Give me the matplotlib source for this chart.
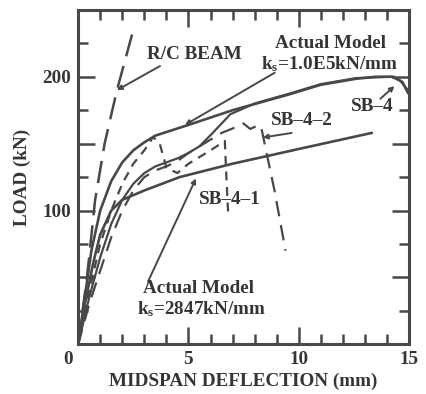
import numpy as np
import matplotlib.pyplot as plt
from matplotlib.ticker import MultipleLocator

plt.rcParams['font.family'] = 'Liberation Serif'
plt.rcParams['font.weight'] = 'bold'
plt.rcParams['axes.labelweight'] = 'bold'
plt.rcParams['mathtext.default'] = 'regular'

# R/C beam (dashed)
rc_x = [0, 0.4, 0.77, 1.2, 1.76, 2.5]
rc_y = [0, 50, 108, 150, 190, 235]

# Actual model, ks = 1.0E5 kN/mm
m1_x = [0, 0.3, 0.6, 1.0, 1.5, 2.0, 2.5, 3.0, 3.5, 5.0, 7.0, 9.6, 11.0, 12.6, 13.5, 14.3, 14.7, 14.95]
m1_y = [0, 35, 70, 100, 122, 136, 145, 151, 156, 164, 175, 187, 194, 198.5, 200, 200, 196, 188]

# SB-4 test
sb4_x = [0, 0.5, 1.0, 1.5, 2.0, 2.5, 3.0, 3.5, 4.0, 4.5, 5.0, 5.5, 6.1, 6.9, 8.0, 9.6, 11.0, 12.6, 14.2, 14.6, 14.95]
sb4_y = [0, 35, 65, 90, 108, 120, 128, 133, 136, 139, 143, 148, 158, 172, 180, 187.5, 194.5, 199, 200, 197, 190]

# SB-4-1 test (dashed)
sb41_x = [0, 0.5, 1.0, 1.5, 2.0, 2.5, 3.0, 3.4, 3.7, 4.0, 4.5, 5.0, 5.5, 6.0, 6.65, 6.72, 6.8]
sb41_y = [0, 40, 75, 100, 120, 135, 145, 155, 150, 132, 128, 135, 140, 145, 152, 125, 98]

# SB-4-2 test (dashed)
sb42_x = [0, 0.5, 1.0, 1.5, 2.0, 2.5, 3.0, 3.5, 4.0, 4.5, 5.0, 5.5, 6.0, 6.5, 7.1, 7.5, 7.8, 8.2, 8.3, 8.9, 9.4]
sb42_y = [0, 30, 55, 80, 100, 115, 125, 130, 133, 137, 143, 148, 153, 158, 162, 165, 161, 164, 162, 115, 70]

# Actual model, ks = 2847 kN/mm
m2_x = [0, 0.3, 0.7, 1.0, 1.5, 2.0, 3.0, 4.6, 7.0, 10.0, 13.3]
m2_y = [0, 30, 62, 82, 100, 108, 115, 125, 135, 146, 158]

gray = '#484848'
tcol = '#353535'

fig = plt.figure(figsize=(4.27, 3.94), dpi=100)
ax = fig.add_axes([0.183, 0.126, 0.775, 0.849])

ax.plot(rc_x, rc_y, color=gray, lw=1.8, dashes=(9, 4))
ax.plot(m1_x, m1_y, color=gray, lw=1.9)
ax.plot(sb4_x, sb4_y, color=gray, lw=1.6)
ax.plot(sb41_x, sb41_y, color=gray, lw=1.6, dashes=(4, 3))
ax.plot(sb42_x, sb42_y, color=gray, lw=1.6, dashes=(7, 4))
ax.plot(m2_x, m2_y, color=gray, lw=1.9)

arrow = dict(arrowstyle='-|>', color=gray, lw=1.4, mutation_scale=7, shrinkA=0, shrinkB=0)
ax.annotate('', xy=(1.76, 190), xytext=(3.71, 208), arrowprops=arrow)
ax.annotate('', xy=(4.84, 164), xytext=(8.91, 203), arrowprops=arrow)
ax.annotate('', xy=(8.37, 154.6), xytext=(9.68, 158), arrowprops=arrow)
ax.annotate('', xy=(14.34, 193), xytext=(13.7, 183.6), arrowprops=arrow)
ax.annotate('', xy=(5.34, 124), xytext=(3.17, 47), arrowprops=arrow)

fs = 13.8
ax.text(5.29, 217, 'R/C BEAM', fontsize=fs, color=tcol, ha='center', va='center')
ax.text(11.45, 224.5, 'Actual Model', fontsize=fs, color=tcol, ha='center', va='center')
ax.text(11.4, 209.7, r'k$_s$=1.0E5kN/mm', fontsize=fs, color=tcol, ha='center', va='center')
ax.text(10.14, 167, 'SB\u20134\u20132', fontsize=fs, color=tcol, ha='center', va='center')
ax.text(13.35, 178, 'SB\u20134', fontsize=fs, color=tcol, ha='center', va='center')
ax.text(6.88, 108, 'SB\u20134\u20131', fontsize=fs, color=tcol, ha='center', va='center')
ax.text(5.47, 42, 'Actual Model', fontsize=fs, color=tcol, ha='center', va='center')
ax.text(5.57, 26, r'k$_s$=2847kN/mm', fontsize=fs, color=tcol, ha='center', va='center')

ax.set_xlim(0, 15)
ax.set_ylim(0, 250)
ax.xaxis.set_minor_locator(MultipleLocator(1))
ax.yaxis.set_minor_locator(MultipleLocator(25))
ax.set_xticks([0, 5, 10, 15])
ax.set_xticklabels(['', '5', '10', '15'])
ax.set_yticks([0, 50, 100, 150, 200, 250])
ax.set_yticklabels(['', '', '100', '', '200', ''])
ax.tick_params(which='both', direction='in', top=True, right=True, colors=gray,
               labelcolor=tcol, labelsize=fs, width=1.8, pad=5)
ax.tick_params(which='major', length=12)
ax.tick_params(which='minor', length=7)
for s in ax.spines.values():
    s.set_linewidth(2.2)
    s.set_color(gray)

ax.text(-0.45, -11, '0', fontsize=fs, color=tcol, ha='center', va='center')
ax.set_xlabel('MIDSPAN DEFLECTION (mm)', fontsize=fs, color=tcol, labelpad=3)
ax.set_ylabel('LOAD (kN)', fontsize=fs, color=tcol, labelpad=8)

fig.savefig('out.png', dpi=100)
